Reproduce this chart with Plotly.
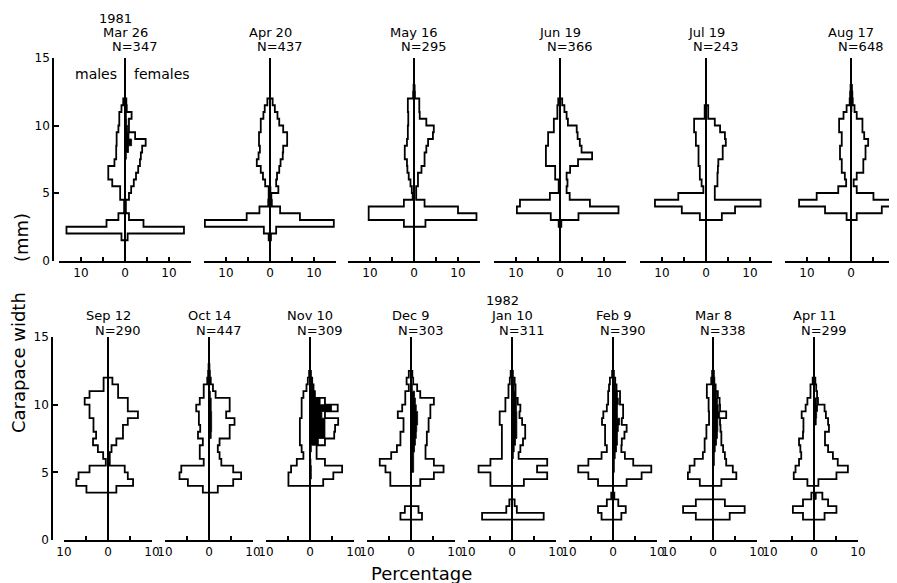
import plotly.graph_objects as go

# page is 897x583; the browser body adds an 8 px margin, so the figure is 8 px smaller
PAGE_OFFSET = 8
W, H = 897 - PAGE_OFFSET, 583 - PAGE_OFFSET

# ---------------- data ----------------
# lower edges of the 0.5 mm carapace-width classes
size_bins_mm = [1.5, 2.0, 2.5, 3.0, 3.5, 4.0, 4.5, 5.0, 5.5, 6.0, 6.5, 7.0,
                7.5, 8.0, 8.5, 9.0, 9.5, 10.0, 10.5, 11.0, 11.5, 12.0, 12.5]
BIN_WIDTH = 0.5

dates = ["Mar 26", "Apr 20", "May 16", "Jun 19", "Jul 19", "Aug 17",
         "Sep 12", "Oct 14", "Nov 10", "Dec 9", "Jan 10", "Feb 9", "Mar 8", "Apr 11"]
years = ["1981", "", "", "", "", "", "", "", "", "", "1982", "", "", ""]
n_crabs = [347, 437, 295, 366, 243, 648, 290, 447, 309, 303, 311, 390, 338, 299]

# percentages per size class (males drawn to the left, females to the right,
# ovigerous females filled black)
males_mar26 = [0.8, 13.3, 4.2, 1.5, 0.2, 0.2, 1.1, 1.1, 2.9, 3.8, 3.8, 2.4, 2.0, 2.0, 1.9, 1.9, 1.5, 1.3, 1.3, 0.8, 0.4, 0, 0]
females_mar26 = [0.6, 13.4, 4.2, 0.9, 0.2, 0.2, 0.9, 1.4, 2.0, 2.5, 3.0, 3.4, 3.6, 3.9, 4.7, 2.3, 0.9, 0.9, 1.5, 0.4, 0.3, 0, 0]
ovig_mar26 = [0, 0, 0, 0, 0, 0, 0, 0, 0, 0, 0, 0, 0.3, 0.8, 1.5, 0.9, 0.6, 0.4, 0.3, 0.2, 0, 0, 0]

males_apr20 = [0.3, 1.4, 14.8, 5.3, 2.4, 0.4, 0.3, 0.3, 1.1, 1.6, 2.1, 3.0, 2.6, 2.3, 2.5, 2.5, 2.1, 2.1, 1.5, 1.2, 0.6, 0, 0]
females_apr20 = [0.2, 1.4, 14.5, 6.8, 2.3, 0.4, 0.3, 1.9, 1.4, 1.6, 2.1, 2.4, 2.9, 3.0, 3.9, 3.9, 3.0, 2.1, 1.7, 1.1, 0.6, 0, 0]
ovig_apr20 = [0.2, 0, 0, 0, 0, 0.4, 0.3, 0.2, 0, 0, 0, 0, 0, 0, 0, 0, 0, 0, 0, 0, 0, 0, 0]

males_may16 = [0, 0, 2.3, 10.3, 10.3, 2.3, 0.3, 0.5, 0.8, 1.2, 1.5, 1.6, 2.1, 2.1, 1.6, 1.4, 1.4, 1.3, 1.3, 1.4, 1.4, 0.2, 0.1]
females_may16 = [0, 0, 2.6, 14.2, 10.0, 2.4, 0.5, 0.5, 0.9, 0.9, 1.7, 2.4, 2.4, 2.8, 3.2, 4.3, 4.5, 2.8, 1.3, 1.2, 1.2, 0.2, 0.1]
ovig_may16 = [0, 0, 0, 0, 0, 0, 0.2, 0.2, 0, 0, 0, 0, 0, 0, 0, 0, 0, 0, 0, 0, 0, 0.2, 0.2]

males_jun19 = [0, 0, 0.3, 2.1, 9.8, 9.1, 2.3, 0.3, 0.3, 1.1, 1.1, 3.2, 3.2, 3.2, 2.7, 2.7, 1.4, 1.4, 0.6, 0.6, 0.4, 0, 0]
females_jun19 = [0, 0, 0.3, 4.2, 13.3, 6.8, 2.2, 1.5, 1.7, 1.5, 2.3, 4.1, 7.3, 4.9, 4.5, 4.0, 3.8, 1.8, 1.5, 1.0, 0.5, 0, 0]
ovig_jun19 = [0] * 23

males_jul19 = [0, 0, 0, 1.4, 5.5, 11.6, 6.3, 0.6, 1.0, 1.4, 1.4, 1.7, 1.7, 1.7, 2.3, 2.3, 2.7, 2.7, 0.3, 0.3, 0, 0, 0]
females_jul19 = [0, 0, 0, 3.6, 6.6, 12.4, 2.0, 2.0, 2.6, 2.6, 2.7, 2.8, 3.8, 3.8, 4.5, 4.3, 3.2, 2.0, 0.5, 0.5, 0, 0, 0]
ovig_jul19 = [0] * 23

males_aug17 = [0, 0, 0, 1.0, 5.9, 11.8, 7.8, 2.9, 1.1, 1.4, 2.1, 2.1, 2.5, 2.5, 2.1, 2.1, 2.7, 2.7, 1.7, 1.0, 0.3, 0.2, 0.1]
females_aug17 = [0, 0, 0, 1.3, 7.0, 9.8, 5.1, 1.3, 0.6, 1.3, 2.8, 2.8, 3.3, 3.3, 3.9, 3.0, 2.6, 2.6, 1.3, 0.8, 0.4, 0.3, 0.2]
ovig_aug17 = [0, 0, 0, 0, 0, 0, 0, 0, 0, 0, 0, 0, 0, 0, 0, 0, 0, 0, 0, 0.2, 0.3, 0.3, 0.2]

males_sep12 = [0, 0, 0, 0, 4.9, 7.2, 6.7, 4.2, 0.5, 1.1, 2.3, 3.4, 2.7, 3.3, 3.3, 4.2, 4.2, 5.3, 4.2, 1.0, 1.0, 0, 0]
females_sep12 = [0, 0, 0, 0, 1.9, 5.7, 4.5, 3.8, 0.4, 0.4, 0.8, 1.9, 3.4, 3.4, 4.5, 6.8, 4.5, 4.5, 2.3, 2.3, 1.0, 0, 0]
ovig_sep12 = [0] * 23

males_oct14 = [0, 0, 0, 0, 1.4, 4.8, 6.7, 6.3, 1.2, 2.1, 2.1, 1.4, 2.5, 2.0, 2.3, 2.3, 2.9, 2.1, 1.2, 1.2, 0.4, 0.2, 0.1]
females_oct14 = [0, 0, 0, 0, 2.0, 5.5, 7.3, 5.5, 2.8, 2.4, 2.0, 2.4, 4.7, 4.7, 5.8, 3.9, 4.7, 4.7, 1.5, 0.9, 0.4, 0.2, 0.1]
ovig_oct14 = [0, 0, 0, 0, 0, 0, 0, 0, 0, 0, 0, 0, 0.5, 0.6, 0.6, 0.6, 0.5, 0.5, 0.3, 0, 0, 0, 0]

males_nov10 = [0, 0, 0, 0, 0, 4.9, 4.9, 4.3, 3.0, 1.5, 1.9, 2.3, 2.3, 2.3, 2.3, 1.9, 1.9, 1.9, 1.5, 0.8, 0.5, 0.2, 0]
females_nov10 = [0, 0, 0, 0, 0, 3.0, 5.3, 7.3, 3.4, 1.5, 1.5, 3.4, 5.5, 5.7, 6.4, 3.4, 6.3, 3.4, 1.1, 0.8, 0.5, 0.2, 0]
ovig_nov10 = [0, 0, 0, 0, 0, 0, 0.3, 0.3, 0.2, 0, 0.3, 1.9, 3.4, 3.4, 3.4, 2.7, 4.9, 2.3, 1.1, 0.8, 0.5, 0.2, 0]

males_dec9 = [2.4, 1.4, 0, 0, 0, 4.7, 4.7, 5.8, 7.1, 4.5, 3.2, 2.4, 2.4, 1.7, 1.7, 3.0, 2.0, 1.3, 1.3, 0.5, 1.0, 0.5, 0]
females_dec9 = [2.5, 1.7, 0, 0, 0, 2.1, 5.2, 7.4, 5.2, 3.3, 3.3, 3.6, 3.6, 4.0, 4.0, 4.4, 4.4, 5.2, 2.1, 1.4, 0.5, 0.3, 0]
ovig_dec9 = [0, 0, 0, 0, 0, 0, 0, 0.6, 0.6, 0.6, 0.8, 1.0, 1.2, 1.3, 1.5, 1.5, 1.2, 1.0, 0.8, 0.3, 0, 0, 0]

males_jan10 = [6.8, 1.3, 0.6, 0, 0, 4.9, 4.9, 7.6, 4.9, 2.3, 2.3, 2.3, 2.3, 2.3, 2.8, 2.8, 1.5, 1.5, 0.8, 0.8, 0.5, 0.3, 0]
females_jan10 = [7.2, 1.1, 0.6, 0, 0, 2.7, 8.0, 5.7, 8.0, 1.5, 1.9, 2.5, 3.0, 3.0, 2.3, 1.7, 1.9, 1.3, 0.8, 0.8, 0.6, 0.2, 0]
ovig_jan10 = [0, 0, 0, 0, 0, 0, 0, 0, 0, 0.3, 0.5, 0.8, 1.1, 1.1, 1.1, 1.1, 1.0, 1.0, 0.8, 0.5, 0.4, 0, 0]

males_feb9 = [2.6, 3.4, 1.4, 0.4, 0, 3.4, 5.6, 7.9, 5.6, 2.6, 1.4, 1.8, 1.8, 1.8, 2.5, 2.2, 1.4, 1.1, 1.1, 0.9, 0.7, 0.2, 0]
females_feb9 = [1.9, 2.9, 1.2, 0.3, 0, 3.1, 6.5, 8.7, 4.6, 2.7, 1.9, 2.0, 2.6, 3.1, 2.0, 2.3, 2.3, 1.6, 1.6, 0.8, 0.5, 0.2, 0]
ovig_feb9 = [0, 0, 0, 0, 0, 0, 0, 0.3, 0.3, 0.5, 0.8, 1.0, 1.0, 1.2, 1.5, 1.0, 1.0, 1.2, 1.0, 0.6, 0.3, 0, 0]

males_mar8 = [3.9, 6.8, 3.9, 0, 0, 3.0, 5.7, 5.3, 4.2, 2.3, 1.9, 1.9, 1.5, 1.5, 0.9, 0.9, 1.0, 1.0, 1.4, 1.4, 0.4, 0.2, 0]
females_mar8 = [3.8, 7.2, 2.7, 0, 0, 1.9, 5.3, 4.5, 3.0, 2.7, 2.3, 1.9, 1.9, 1.7, 1.6, 3.0, 1.6, 1.5, 1.1, 0.6, 0.3, 0.2, 0]
ovig_mar8 = [0, 0, 0, 0, 0, 0, 0, 0, 0.3, 0.3, 0.5, 0.8, 1.0, 1.1, 1.1, 1.5, 1.2, 1.0, 0.8, 0.5, 0.3, 0, 0]

males_apr11 = [2.5, 4.8, 2.5, 0.6, 0, 1.5, 4.6, 4.2, 3.4, 2.9, 3.1, 3.4, 2.5, 2.4, 2.4, 2.8, 1.9, 1.5, 0.8, 0.8, 0.3, 0, 0]
females_apr11 = [2.4, 5.1, 3.2, 1.9, 0, 1.0, 5.1, 7.7, 5.4, 4.3, 3.2, 2.5, 2.5, 3.4, 3.2, 2.7, 2.4, 0.9, 0.7, 0.5, 0.3, 0, 0]
ovig_apr11 = [0, 0, 0, 0.5, 0, 0, 0, 0, 0, 0, 0, 0, 0, 0, 0.5, 0.6, 0.8, 0.6, 0, 0, 0, 0, 0]

males_all = [males_mar26, males_apr20, males_may16, males_jun19, males_jul19, males_aug17,
             males_sep12, males_oct14, males_nov10, males_dec9, males_jan10, males_feb9, males_mar8, males_apr11]
females_all = [females_mar26, females_apr20, females_may16, females_jun19, females_jul19, females_aug17,
               females_sep12, females_oct14, females_nov10, females_dec9, females_jan10, females_feb9, females_mar8, females_apr11]
ovig_all = [ovig_mar26, ovig_apr20, ovig_may16, ovig_jun19, ovig_jul19, ovig_aug17,
            ovig_sep12, ovig_oct14, ovig_nov10, ovig_dec9, ovig_jan10, ovig_feb9, ovig_mar8, ovig_apr11]

# ---------------- layout helpers (page pixels) ----------------
PX_PER_PCT = 4.4
row1_zero_px = [125, 270, 414, 560, 706, 851]
row2_zero_px = [108, 209, 310, 411, 512, 613, 713, 814]
row1_y0, row1_y15 = 260.5, 58.0
row2_y0, row2_y15 = 540.0, 337.0

FONT = "DejaVu Sans"


def fx(px):
    return (px - PAGE_OFFSET) / W


def fy(py):
    return 1 - (py - PAGE_OFFSET) / H


def step_path(values, sign):
    xs = [0.0]
    ys = [size_bins_mm[0]]
    for b, v in zip(size_bins_mm, values):
        xs.append(sign * v)
        ys.append(b)
    xs.append(0.0)
    ys.append(size_bins_mm[-1] + BIN_WIDTH)
    return xs, ys


def label(px, py, text, size, angle=0):
    return dict(x=fx(px), y=fy(py), text=text, showarrow=False, xref="paper", yref="paper",
                xanchor="center", yanchor="middle", textangle=angle,
                font=dict(family=FONT, size=size, color="black"))


fig = go.Figure()
layout_axes = {}
annotations = []

for i in range(14):
    top = i < 6
    ax_id = "" if i == 0 else str(i + 1)
    xname = "x" + ax_id
    yname = "y" if top else "y2"
    zero = row1_zero_px[i] if top else row2_zero_px[i - 6]
    half = 15 if top else 10
    left_px = zero - half * PX_PER_PCT
    right_px = min(zero + half * PX_PER_PCT, W + PAGE_OFFSET)
    rng = [-half, (right_px - zero) / PX_PER_PCT]

    # ovigerous females (black fill)
    ox, oy = step_path(ovig_all[i], 1)
    if any(v > 0 for v in ovig_all[i]):
        fig.add_trace(go.Scatter(x=ox, y=oy, xaxis=xname, yaxis=yname, mode="lines",
                                 line=dict(color="black", width=0.8, shape="vh"),
                                 fill="toself", fillcolor="black", hoverinfo="skip",
                                 showlegend=False))
    mx, my = step_path(males_all[i], -1)
    fig.add_trace(go.Scatter(x=mx, y=my, xaxis=xname, yaxis=yname, mode="lines",
                             line=dict(color="black", width=1.8, shape="vh"),
                             hoverinfo="skip", showlegend=False))
    fxs, fys = step_path(females_all[i], 1)
    fig.add_trace(go.Scatter(x=fxs, y=fys, xaxis=xname, yaxis=yname, mode="lines",
                             line=dict(color="black", width=1.8, shape="vh"),
                             hoverinfo="skip", showlegend=False))

    if top:
        tickvals = [-15, -10, -5, 0, 5, 10, 15]
        ticktext = ["", "10", "", "0", "", "10", ""]
    else:
        tickvals = [-10, -5, 0, 5, 10]
        ticktext = ["10", "", "0", "", "10"]

    layout_axes["xaxis" + ax_id] = dict(
        domain=[fx(left_px), fx(right_px)], range=rng, anchor=yname,
        showline=True, linecolor="black", linewidth=1.5,
        ticks="inside", ticklen=4, tickwidth=1.5, tickcolor="black",
        tickvals=tickvals, ticktext=ticktext,
        tickfont=dict(family=FONT, size=12, color="black"),
        zeroline=True, zerolinecolor="black", zerolinewidth=1.5,
        showgrid=False, fixedrange=True, automargin=False)

    # titles
    ty_year, ty_date, ty_n = (19, 33, 47) if top else (300, 315, 330)
    if years[i]:
        annotations.append(label(zero - 10, ty_year, years[i], 13))
    annotations.append(label(zero, ty_date, dates[i], 13))
    annotations.append(label(zero + 9, ty_n, "N=%d" % n_crabs[i], 13))

ycommon = dict(range=[0, 15], anchor="free", showline=True, linecolor="black", linewidth=1.5,
               ticks="inside", ticklen=5, tickwidth=1.5, tickcolor="black",
               tickvals=[0, 5, 10, 15], tickfont=dict(family=FONT, size=12, color="black"),
               showgrid=False, zeroline=False, fixedrange=True, automargin=False)
layout_axes["yaxis"] = dict(ycommon, domain=[fy(row1_y0), fy(row1_y15)], position=fx(53))
layout_axes["yaxis2"] = dict(ycommon, domain=[fy(row2_y0), fy(row2_y15)], position=fx(52))

annotations += [
    label(96, 74, "males", 14),
    label(162, 74, "females", 14),
    label(421, 573, "Percentage", 18),
    label(18, 363, "Carapace width", 18, -90),
    label(21, 238, "(mm)", 18, -90),
]

fig.update_layout(width=W, height=H, autosize=False,
                  margin=dict(l=0, r=0, t=0, b=0, pad=0, autoexpand=False),
                  paper_bgcolor="white", plot_bgcolor="white",
                  annotations=annotations, showlegend=False, **layout_axes)

fig.write_html("out.html")
